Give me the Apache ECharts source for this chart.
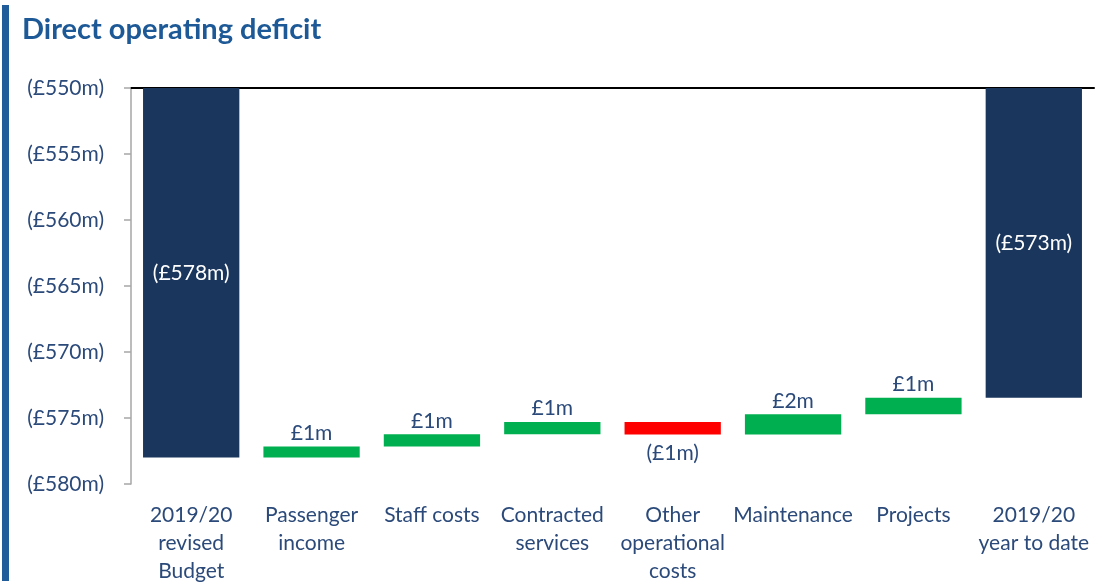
<!DOCTYPE html>
<html>
<head>
<meta charset="utf-8">
<title>Direct operating deficit</title>
<script src="https://cdn.jsdelivr.net/npm/echarts@6/dist/echarts.min.js"></script>
<style>
  html, body { margin: 0; padding: 0; background: #fff; }
  #side { position: absolute; left: 2px; top: 5px; width: 7px; height: 576px; background: #1F5C99; }
  #chart { position: absolute; left: 0; top: 0; width: 1102px; height: 585px; }
</style>
</head>
<body>
<div id="side"></div>
<div id="chart"></div>
<script>
// Category labels along the bottom
const categories = [
  '2019/20\nrevised\nBudget', 'Passenger\nincome', 'Staff costs', 'Contracted\nservices',
  'Other\noperational\ncosts', 'Maintenance', 'Projects', '2019/20\nyear to date'
];
// Deficit in £m at the start (revised budget)
const budgetDeficit = 578.0;
// Favourable movements in £m (positive reduces the deficit, negative adds to it)
const movements = [0.85, 0.92, 0.93, -0.95, 1.53, 1.25];
// Value axis ticks (£m deficit)
const axisMin = 550, axisMax = 580, axisStep = 5;

const FONT = 'Lato';
const TEXT = '#2B4A7A';
const NAVY = '#1A365D';
const GREEN = '#00B050';
const RED = '#FF0000';

// Build the waterfall: invisible base + visible segment per category
const baseData = [];
const segData = [];
let level = budgetDeficit;
baseData.push(axisMin);
segData.push({ value: budgetDeficit - axisMin, total: budgetDeficit, kind: 'total' });
movements.forEach(m => {
  const next = level - m;
  const lo = Math.min(level, next);
  baseData.push(lo);
  segData.push({ value: Math.abs(m), move: m, kind: m >= 0 ? 'good' : 'bad' });
  level = next;
});
baseData.push(axisMin);
segData.push({ value: level - axisMin, total: level, kind: 'total' });

const fmtM = v => '(£' + v + 'm)';

const seg = segData.map(d => {
  const item = { value: d.value };
  if (d.kind === 'total') {
    item.itemStyle = { color: NAVY };
    item.label = { show: true, position: 'inside', color: '#fff',
      formatter: () => fmtM(Math.round(d.total)) };
  } else if (d.kind === 'good') {
    item.itemStyle = { color: GREEN };
    item.label = { show: true, position: 'top', distance: 3, color: TEXT,
      formatter: () => '£' + Math.round(d.move) + 'm' };
  } else {
    item.itemStyle = { color: RED };
    item.label = { show: true, position: 'bottom', distance: 8, color: TEXT,
      formatter: () => '(£' + Math.round(-d.move) + 'm)' };
  }
  return item;
});

const chart = echarts.init(document.getElementById('chart'), null, { renderer: 'canvas' });
chart.setOption({
  animation: false,
  textStyle: { fontFamily: FONT },
  title: {
    text: 'Direct operating deficit',
    left: 17, top: 10,
    textStyle: { fontFamily: FONT, fontSize: 29, fontWeight: 'bold', color: '#1D5996' }
  },
  grid: { left: 131, right: 8, top: 88, bottom: 99, containLabel: false },
  xAxis: [
    {
      type: 'category', data: categories, position: 'bottom',
      axisLine: { show: false }, axisTick: { show: false },
      axisLabel: { color: TEXT, fontSize: 21, lineHeight: 28, margin: 17, interval: 0, fontFamily: FONT }
    },
    {
      type: 'category', data: categories, position: 'top',
      axisLine: { show: true, lineStyle: { color: '#000', width: 2 } },
      axisTick: { show: false }, axisLabel: { show: false }
    }
  ],
  yAxis: {
    type: 'value', inverse: true, min: axisMin, max: axisMax, interval: axisStep,
    axisLine: { show: true, lineStyle: { color: '#A6A6A6', width: 1.5 } },
    axisTick: { show: true, length: 7, lineStyle: { color: '#A6A6A6', width: 1.5 } },
    splitLine: { show: false },
    axisLabel: { color: TEXT, fontSize: 21, margin: 27, fontFamily: FONT, formatter: v => fmtM(v) }
  },
  series: [
    {
      type: 'bar', stack: 'w', data: baseData, barCategoryGap: '20%',
      itemStyle: { color: 'rgba(0,0,0,0)' }, silent: true
    },
    {
      type: 'bar', stack: 'w', data: seg, barCategoryGap: '20%',
      label: { fontSize: 21, fontFamily: FONT }
    }
  ]
});
</script>
</body>
</html>
